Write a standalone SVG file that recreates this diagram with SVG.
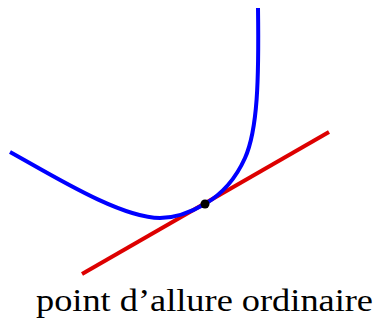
<svg xmlns="http://www.w3.org/2000/svg" width="376" height="320" viewBox="0 0 376 320">
<style>
.curve{fill:none;stroke:#0000ff;stroke-width:4}
.tan{fill:none;stroke:#dd0000;stroke-width:4}
.lbl{font-family:"Liberation Serif",serif;font-size:32px;fill:#000}
</style>
<rect width="376" height="320" fill="#fff"/>
<g id="connectors">
<line class="tan" x1="82" y1="274" x2="329" y2="132"/>
<path class="curve" d="M10,152 C50,174 120,218 160,218 C178,218 193,211 205,204 C222,194 236,178 245,158 C257.6,130 259,80 258,8"/>
</g>
<g id="point">
<circle cx="205" cy="204" r="4.5" fill="#000"/>
</g>
<g id="label">
<text class="lbl" x="36" y="311" textLength="337" lengthAdjust="spacingAndGlyphs">point d’allure ordinaire</text>
</g>
</svg>
